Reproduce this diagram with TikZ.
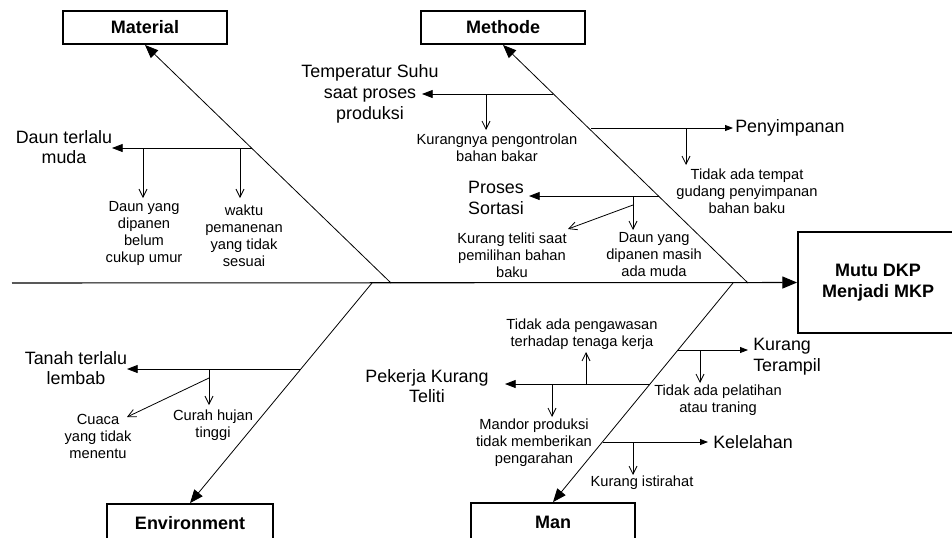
\documentclass[tikz,border=0pt]{standalone}
\usepackage{fontspec}
\setmainfont{Liberation Sans}
\usetikzlibrary{arrows.meta}

\begin{document}
\begin{tikzpicture}[x=0.75pt,y=0.75pt,yscale=-1,xscale=1,
	box/.style={draw, line width=1.4pt, inner sep=0pt, font=\bfseries\fontsize{13.5}{16}\selectfont, align=center},
	big/.style={inner sep=0pt, align=center, font=\fontsize{13.4}{15.5}\selectfont},
	small/.style={inner sep=0pt, align=center, font=\fontsize{11}{12.75}\selectfont},
	spine/.style={line width=0.8pt, -{Triangle[length=11pt,width=9pt]}},
	bone/.style={line width=0.6pt, -{Triangle[length=10pt,width=8pt]}},
	branch/.style={line width=0.6pt, -{Triangle[length=8pt,width=6pt]}},
	branchr/.style={line width=0.6pt, -{Triangle[length=6pt,width=4.5pt]}},
	sub/.style={line width=0.6pt, -{Straight Barb[length=6pt,width=6pt]}}]
	\useasboundingbox (0,0) rectangle (952,537);
	\clip (0,0) rectangle (952,537);

	%Boxes
	\node [box, minimum width=123pt, minimum height=24.75pt] (mat) at (145,27.5) {Material};
	\node [box, minimum width=123pt, minimum height=24.75pt] (met) at (503,27.5) {Methode};
	\node [box, minimum width=124.5pt, minimum height=28.5pt] (env) at (190,523) {Environment};
	\node [box, minimum width=123pt, minimum height=28.5pt] (man) at (553,522) {Man};
	\node [box, minimum width=120pt, minimum height=75.75pt] (eff) at (878,282.5) {Mutu DKP\\Menjadi MKP};

	%Spine and bones
	\coordinate (tail) at (12,283);
	\coordinate (jmat) at (391,283);
	\coordinate (jmet) at (748,283);
	\coordinate (jenv) at (372,283);
	\coordinate (jman) at (733,283);
	\draw [spine] (tail) -- (eff.west);
	\draw [bone] (jmat) -- (mat.south);
	\draw [bone] (jmet) -- (met.south);
	\draw [bone] (jenv) -- (env.north);
	\draw [bone] (jman) -- (man.north);

	%Material
	\coordinate (m1) at (252,148);
	\coordinate (m1e) at (112,148);
	\coordinate (m1a) at (143,148);
	\coordinate (m1b) at (240,148);
	\draw [branch] (m1) -- (m1e);
	\draw [sub] (m1a) -- (143,198);
	\draw [sub] (m1b) -- (240,198);
	\node [big] (dtm) at (64,147) {Daun terlalu\\muda};
	\node [small] (dyb) at (144,233) {Daun yang\\dipanen\\belum\\cukup umur};
	\node [small] (wkt) at (244,236) {waktu\\pemanenan\\yang tidak\\sesuai};

	%Methode
	\coordinate (t1) at (553,94);
	\coordinate (t1e) at (422,94);
	\coordinate (t1a) at (486,94);
	\draw [branch] (t1) -- (t1e);
	\draw [sub] (t1a) -- (486,130);
	\node [big] (tsp) at (370,94) {Temperatur Suhu\\saat proses\\produksi};
	\node [small] (kpb) at (497,148) {Kurangnya pengontrolan\\bahan bakar};

	\coordinate (t2) at (591,128);
	\coordinate (t2e) at (733,128);
	\coordinate (t2a) at (686,128);
	\draw [branchr] (t2) -- (t2e);
	\draw [sub] (t2a) -- (686,165);
	\node [big, anchor=west] (pny) at (735,128) {Penyimpanan};
	\node [small] (tat) at (747,191) {Tidak ada tempat\\gudang penyimpanan\\bahan baku};

	\coordinate (t3) at (659,196);
	\coordinate (t3e) at (529,196);
	\coordinate (t3a) at (633,196);
	\coordinate (t3b) at (633,205);
	\draw [branch] (t3) -- (t3e);
	\draw [sub] (t3a) -- (633,230);
	\draw [sub] (t3b) -- (568,229);
	\node [big] (pss) at (496,198) {Proses\\Sortasi};
	\node [small] (ktb) at (512,255) {Kurang teliti saat\\pemilihan bahan\\baku};
	\node [small] (dym) at (654,255) {Daun yang\\dipanen masih\\ada muda};

	%Environment
	\coordinate (e1) at (300,369);
	\coordinate (e1e) at (127,369);
	\coordinate (e1a) at (209,369);
	\coordinate (e1b) at (209,378);
	\draw [branch] (e1) -- (e1e);
	\draw [sub] (e1a) -- (209,405);
	\draw [sub] (e1b) -- (127,417);
	\node [big] (ttl) at (76,368) {Tanah terlalu\\lembab};
	\node [small] (chj) at (213,425) {Curah hujan\\tinggi};
	\node [small] (cua) at (98,436) {Cuaca\\yang tidak\\menentu};

	%Man
	\coordinate (p1) at (650,384);
	\coordinate (p1e) at (505,384);
	\coordinate (p1a) at (586,384);
	\coordinate (p1b) at (552,384);
	\draw [branch] (p1) -- (p1e);
	\draw [sub] (p1a) -- (586,352);
	\draw [sub] (p1b) -- (552,417);
	\node [big] (pkt) at (427,386) {Pekerja Kurang\\Teliti};
	\node [small] (tap) at (582,334) {Tidak ada pengawasan\\terhadap tenaga kerja};
	\node [small] (mpr) at (534,443) {Mandor produksi\\tidak memberikan\\pengarahan};

	\coordinate (p2) at (678,350);
	\coordinate (p2e) at (748,350);
	\coordinate (p2a) at (700,350);
	\draw [branchr] (p2) -- (p2e);
	\draw [sub] (p2a) -- (700,383);
	\node [big, anchor=west, align=left] (ktr) at (753,357) {Kurang\\Terampil};
	\node [small] (tpl) at (718,400) {Tidak ada pelatihan\\atau traning};

	\coordinate (p3) at (603,442);
	\coordinate (p3e) at (708,442);
	\coordinate (p3a) at (633,442);
	\draw [branchr] (p3) -- (p3e);
	\draw [sub] (p3a) -- (633,475);
	\node [big, anchor=west] (kll) at (713,442) {Kelelahan};
	\node [small] (kis) at (642,483) {Kurang istirahat};
\end{tikzpicture}
\end{document}
